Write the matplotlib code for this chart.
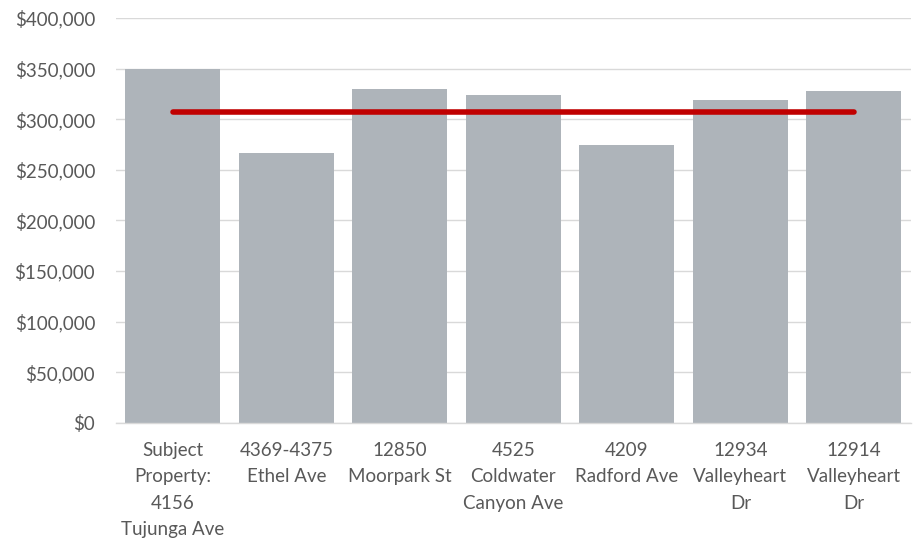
import matplotlib
matplotlib.use("Agg")
import matplotlib.pyplot as plt
from matplotlib.ticker import FuncFormatter

categories = [
    "Subject\nProperty:\n4156\nTujunga Ave",
    "4369-4375\nEthel Ave",
    "12850\nMoorpark St",
    "4525\nColdwater\nCanyon Ave",
    "4209\nRadford Ave",
    "12934\nValleyheart\nDr",
    "12914\nValleyheart\nDr",
]
values = [350000, 266300, 329500, 323900, 274500, 318700, 328200]
average_comps = [306850] * len(categories)
yticks = [0, 50000, 100000, 150000, 200000, 250000, 300000, 350000, 400000]

plt.rcParams['font.family'] = ['Lato', 'DejaVu Sans']
text_color = '#595959'

fig = plt.figure(figsize=(9.2, 5.38), dpi=100)
ax = fig.add_axes([116/920, 1 - 422.7/538, (910.7 - 116)/920, (422.7 - 18)/538])

x = list(range(len(categories)))
ax.bar(x, values, width=0.837, color='#AEB4BA', zorder=2)
ax.plot(x, average_comps, color='#C00000', linewidth=4, solid_capstyle='round', zorder=3)

ax.set_xlim(-0.5, len(categories) - 0.5)
ax.set_ylim(0, 400000)
ax.set_yticks(yticks)
ax.yaxis.set_major_formatter(FuncFormatter(lambda v, p: f"${v:,.0f}"))
ax.set_xticks(x)
ax.set_xticklabels(categories, linespacing=1.66)

ax.grid(axis='y', color='#D9D9D9', linewidth=1, zorder=0)
ax.set_axisbelow(True)
for s in ['top', 'right', 'left']:
    ax.spines[s].set_visible(False)
ax.spines['bottom'].set_color('#D9D9D9')
ax.spines['bottom'].set_linewidth(1)

ax.tick_params(axis='both', length=0, labelsize=13.5, colors=text_color)
ax.tick_params(axis='y', pad=15)
ax.tick_params(axis='x', pad=14)
for lbl in ax.get_xticklabels() + ax.get_yticklabels():
    lbl.set_color(text_color)

fig.savefig('out.png', dpi=100)
